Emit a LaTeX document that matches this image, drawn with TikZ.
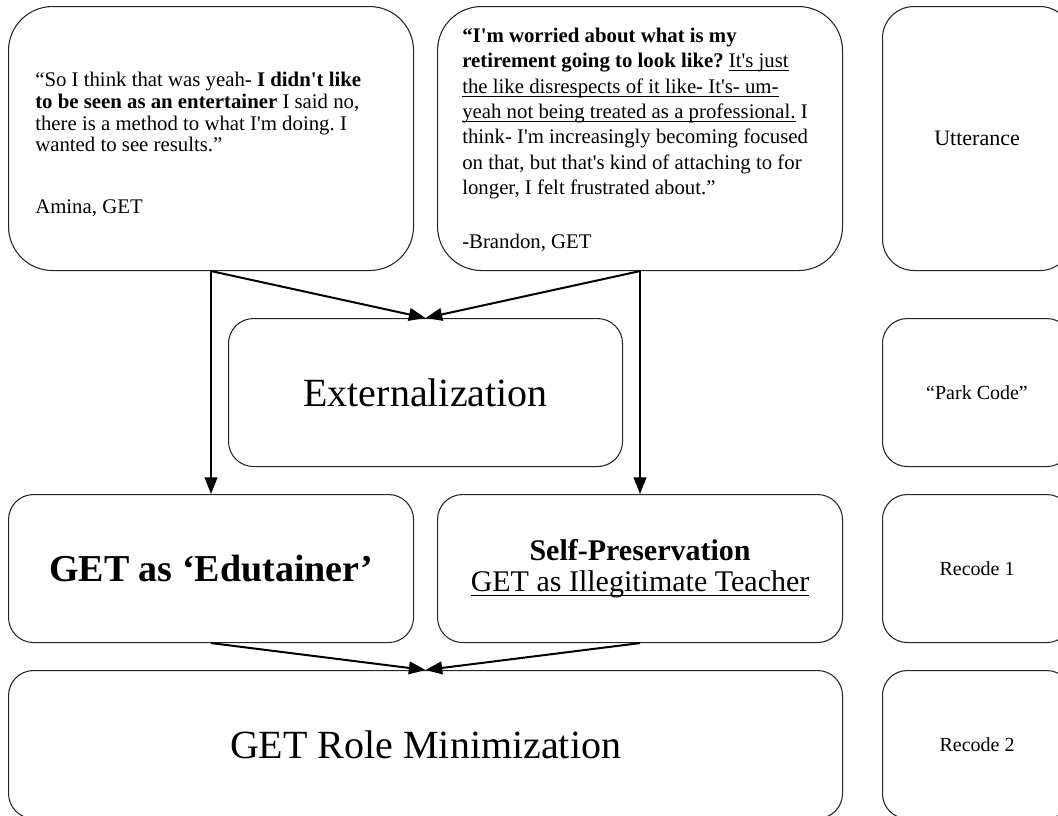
\documentclass[tikz,border=0pt]{standalone}
\usepackage{fontspec}
\setmainfont{Liberation Serif}
\usetikzlibrary{arrows.meta}
% straight apostrophe as typed in the quotes
\newcommand\ap{\textquotesingle}
% underline that sits just below the baseline, crossing descenders
\newcommand\undl[1]{\leavevmode\setbox0\hbox{#1}\rlap{\rule[-0.17em]{\wd0}{0.055em}}\box0}

\begin{document}
\frenchspacing
\begin{tikzpicture}[x=0.75pt,y=-0.75pt,
  panel/.style={draw=black!85, line width=0.8pt, rectangle, anchor=north west,
    inner sep=0pt, text=black},
  bigpanel/.style={panel, minimum width=303.75pt, minimum height=198pt, rounded corners=33pt},
  midpanel/.style={panel, minimum height=111pt, rounded corners=18.75pt},
  sidepanel/.style={panel, minimum width=141.75pt, font=\fontsize{15}{18}\selectfont},
  quote/.style={anchor=west, inner sep=0pt, align=left, text=black},
  flow/.style={line width=1.5pt, draw=black, -{Triangle[length=12.5pt,width=9.5pt]}},
]
\useasboundingbox (0,0) rectangle (1058,815);
\clip (0,0) rectangle (1058,815);

% utterances
\node[bigpanel] (amina) at (8,6) {};
\node[quote, font=\fontsize{15.6}{16.3}\selectfont] (aminaq) at ([xshift=20.25pt,yshift=-4.5pt]amina.west)
  {“So I think that was yeah- \textbf{I didn\ap t like}\\
   \textbf{to be seen as an entertainer} I said no,\\
   there is a method to what I\ap m doing. I\\
   wanted to see results.”\\[30pt]
   Amina, GET};

\node[bigpanel] (brandon) at (437,6) {};
\node[quote, font=\fontsize{15.6}{19}\selectfont] (brandonq) at ([xshift=18.75pt,yshift=-1pt]brandon.west)
  {\textbf{“I\ap m worried about what is my}\\
   \textbf{retirement going to look like?} \undl{It\ap s just}\\
   \undl{the like disrespects of it like- It\ap s- um-}\\
   \undl{yeah not being treated as a professional.}\ I\\
   think- I\ap m increasingly becoming focused\\
   on that, but that\ap s kind of attaching to for\\
   longer, I felt frustrated about.”\\[21.5pt]
   -Brandon, GET};

% park code
\node[midpanel, minimum width=295.5pt, font=\fontsize{30}{34}\selectfont] (ext) at (228,318)
  {Externalization};

% first recode
\node[midpanel, minimum width=303.75pt, font=\fontsize{28.5}{32}\selectfont\bfseries] (edu) at (8,494)
  {GET as ‘Edutainer’};
\node[midpanel, minimum width=303.75pt, align=center, font=\fontsize{22.5}{23.25}\selectfont] (selfp) at (437,494)
  {\textbf{Self-Preservation}\\\undl{GET as Illegitimate Teacher}};

% second recode
\node[midpanel, minimum width=625.5pt, font=\fontsize{30}{34}\selectfont] (minim) at (8,670)
  {GET Role Minimization};

% legend column
\node[sidepanel, minimum height=198pt, rounded corners=23.6pt, font=\fontsize{16.5}{19}\selectfont] (lu) at (882,6) {Utterance};
\node[sidepanel, minimum height=111pt, rounded corners=18.5pt] (lp) at (882,318) {“Park Code”};
\node[sidepanel, minimum height=111pt, rounded corners=18.5pt] (lr1) at (882,494) {Recode 1};
\node[sidepanel, minimum height=111pt, rounded corners=18.5pt] (lr2) at (882,670) {Recode 2};

% connectors
\draw[flow] (amina.south) -- (edu.north);
\draw[flow] (amina.south) -- (ext.north);
\draw[flow] (brandon.south) -- (ext.north);
\draw[flow] (brandon.south) -- (selfp.north);
\draw[flow] (edu.south) -- (minim.north);
\draw[flow] (selfp.south) -- (minim.north);
\end{tikzpicture}
\end{document}
